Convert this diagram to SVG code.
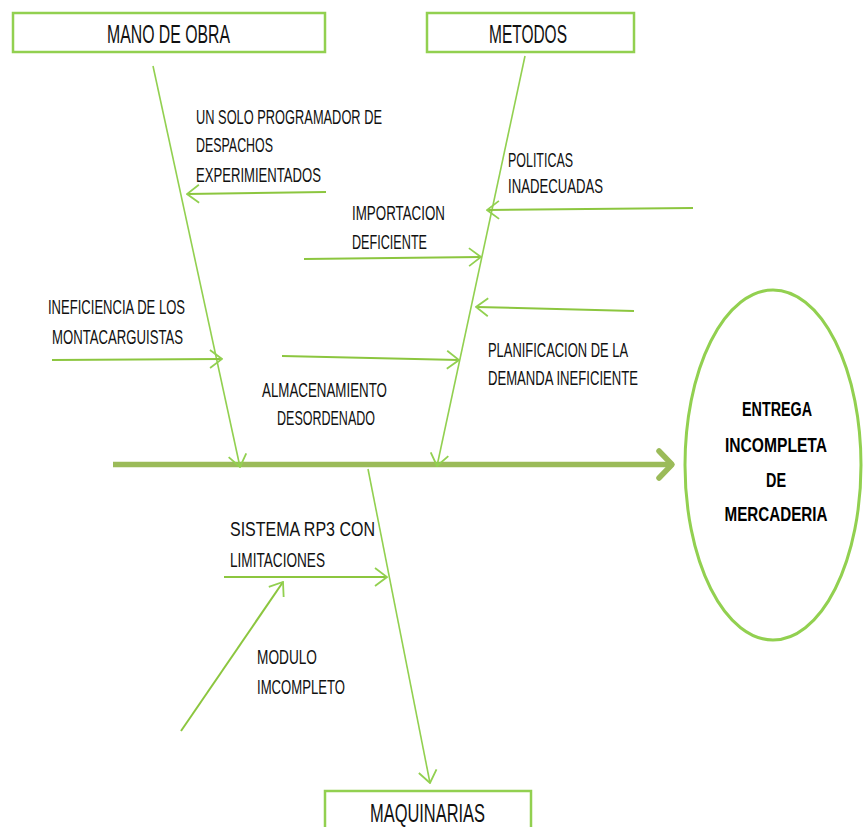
<svg xmlns="http://www.w3.org/2000/svg" width="864" height="827" viewBox="0 0 864 827">
<style>
.box{fill:#fff;stroke:#92D050;stroke-width:2.5}
.bone{stroke:#92D050;stroke-width:1.6;fill:none}
.sub{stroke:#8CC63F;stroke-width:2;fill:none}
.t{font-family:"Liberation Sans",Arial,sans-serif;font-size:21px;fill:#111}
.title{font-family:"Liberation Sans",Arial,sans-serif;font-size:25px;fill:#111}
.eff{font-family:"Liberation Sans",Arial,sans-serif;font-size:20px;font-weight:bold;fill:#000;text-anchor:middle}
</style>
<defs>
<marker id="ah" markerUnits="userSpaceOnUse" viewBox="0 0 14 20" markerWidth="14" markerHeight="20" refX="13" refY="10" orient="auto">
<path d="M1,1 L13,10 L1,19" fill="none" stroke="#92D050" stroke-width="1.8"/>
</marker>
<filter id="sh" x="-5%" y="-200%" width="110%" height="500%">
<feGaussianBlur stdDeviation="2"/>
</filter>
</defs>
<rect width="864" height="827" fill="#fff"/>

<g id="connectors">
<line x1="116" y1="468" x2="668" y2="468" stroke="#777" stroke-width="5" opacity="0.45" filter="url(#sh)"/>
<line x1="113" y1="464.5" x2="670" y2="464.5" stroke="#9BBB59" stroke-width="5.5"/>
<path d="M659,451 L672,464.5 L659,478" fill="none" stroke="#9BBB59" stroke-width="5.5" stroke-linecap="round" stroke-linejoin="round"/>
<line class="bone" x1="153" y1="66" x2="240" y2="467" marker-end="url(#ah)"/>
<line class="bone" x1="525" y1="56" x2="437" y2="466" marker-end="url(#ah)"/>
<line class="bone" x1="368" y1="469" x2="430" y2="783" marker-end="url(#ah)"/>
<line class="sub" x1="326" y1="192" x2="187" y2="194" marker-end="url(#ah)"/>
<line class="sub" x1="304" y1="259" x2="481" y2="257" marker-end="url(#ah)"/>
<line class="sub" x1="693" y1="208" x2="487" y2="210" marker-end="url(#ah)"/>
<line class="sub" x1="634" y1="311" x2="476" y2="307" marker-end="url(#ah)"/>
<line class="sub" x1="52" y1="360" x2="222" y2="359" marker-end="url(#ah)"/>
<line class="sub" x1="282" y1="356" x2="459" y2="360" marker-end="url(#ah)"/>
<line class="sub" x1="224" y1="577" x2="387" y2="577" marker-end="url(#ah)"/>
<line class="sub" x1="181" y1="731" x2="283" y2="582" marker-end="url(#ah)"/>
</g>

<g id="mano-de-obra">
<rect class="box" x="13" y="13" width="312" height="39"/>
<text class="title" x="107" y="43" textLength="123" lengthAdjust="spacingAndGlyphs">MANO DE OBRA</text>
</g>
<g id="metodos">
<rect class="box" x="427" y="13" width="207" height="39"/>
<text class="title" x="489" y="43" textLength="78" lengthAdjust="spacingAndGlyphs">METODOS</text>
</g>
<g id="maquinarias">
<rect class="box" x="325" y="791" width="206" height="50"/>
<text class="title" x="370" y="822" textLength="115" lengthAdjust="spacingAndGlyphs">MAQUINARIAS</text>
</g>
<g id="efecto">
<ellipse cx="773" cy="465" rx="88" ry="175" fill="#fff" stroke="#92D050" stroke-width="3"/>
<text class="eff" x="777" y="416" textLength="70" lengthAdjust="spacingAndGlyphs">ENTREGA</text>
<text class="eff" x="776" y="452" textLength="102" lengthAdjust="spacingAndGlyphs">INCOMPLETA</text>
<text class="eff" x="776" y="487" textLength="20" lengthAdjust="spacingAndGlyphs">DE</text>
<text class="eff" x="776" y="521" textLength="103" lengthAdjust="spacingAndGlyphs">MERCADERIA</text>
</g>

<g id="causa-programador">
<text class="t" x="196" y="124" textLength="186" lengthAdjust="spacingAndGlyphs">UN SOLO PROGRAMADOR DE</text>
<text class="t" x="196" y="152" textLength="77" lengthAdjust="spacingAndGlyphs">DESPACHOS</text>
<text class="t" x="196" y="182" textLength="125" lengthAdjust="spacingAndGlyphs">EXPERIMIENTADOS</text>
</g>
<g id="causa-politicas">
<text class="t" x="508" y="167" textLength="65" lengthAdjust="spacingAndGlyphs">POLITICAS</text>
<text class="t" x="508" y="193" textLength="95" lengthAdjust="spacingAndGlyphs">INADECUADAS</text>
</g>
<g id="causa-importacion">
<text class="t" x="352" y="220" textLength="93" lengthAdjust="spacingAndGlyphs">IMPORTACION</text>
<text class="t" x="352" y="249" textLength="75" lengthAdjust="spacingAndGlyphs">DEFICIENTE</text>
</g>
<g id="causa-montacarguistas">
<text class="t" x="48" y="314" textLength="137" lengthAdjust="spacingAndGlyphs">INEFICIENCIA DE LOS</text>
<text class="t" x="52" y="344" textLength="131" lengthAdjust="spacingAndGlyphs">MONTACARGUISTAS</text>
</g>
<g id="causa-planificacion">
<text class="t" x="488" y="357" textLength="140" lengthAdjust="spacingAndGlyphs">PLANIFICACION DE LA</text>
<text class="t" x="488" y="385" textLength="150" lengthAdjust="spacingAndGlyphs">DEMANDA INEFICIENTE</text>
</g>
<g id="causa-almacenamiento">
<text class="t" x="262" y="397" textLength="125" lengthAdjust="spacingAndGlyphs">ALMACENAMIENTO</text>
<text class="t" x="277" y="425" textLength="98" lengthAdjust="spacingAndGlyphs">DESORDENADO</text>
</g>
<g id="causa-sistema">
<text class="t" x="230" y="536" textLength="145" lengthAdjust="spacingAndGlyphs">SISTEMA RP3 CON</text>
<text class="t" x="230" y="567" textLength="95" lengthAdjust="spacingAndGlyphs">LIMITACIONES</text>
</g>
<g id="causa-modulo">
<text class="t" x="257" y="664" textLength="60" lengthAdjust="spacingAndGlyphs">MODULO</text>
<text class="t" x="257" y="694" textLength="88" lengthAdjust="spacingAndGlyphs">IMCOMPLETO</text>
</g>
</svg>
